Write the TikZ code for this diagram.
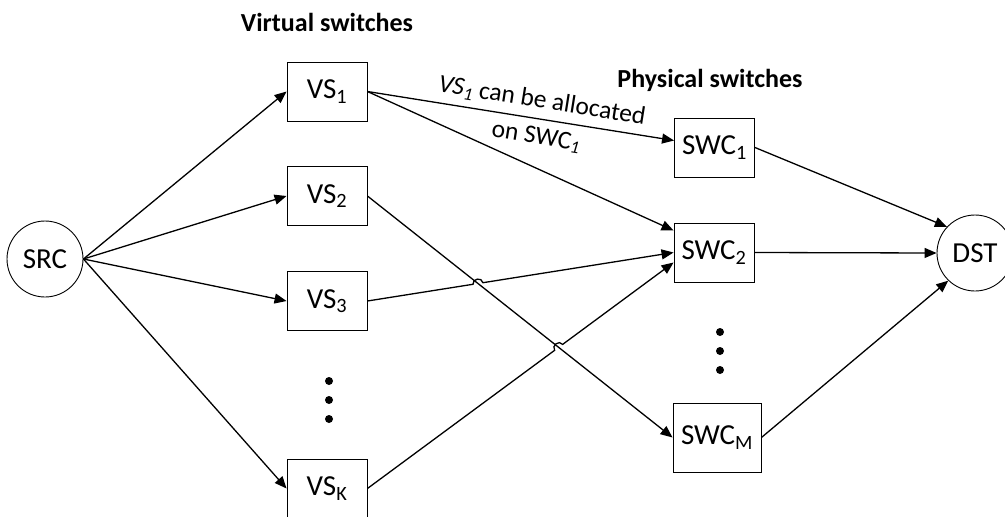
\documentclass[tikz,border=0pt]{standalone}
\usepackage{fontspec}
\setmainfont{Carlito}
\usetikzlibrary{arrows.meta,calc,intersections}
\tikzset{
  swbox/.style={draw, line width=0.9pt, minimum width=80pt, minimum height=59pt, inner sep=0pt, font=\fontsize{29}{34}\selectfont},
  endnode/.style={draw, circle, line width=0.9pt, minimum size=76pt, inner sep=0pt, font=\fontsize{29}{34}\selectfont},
  flow/.style={line width=1.3pt, -{Triangle[length=12pt,width=10pt]}},
  heading/.style={font=\fontsize{26}{30}\selectfont\bfseries},
  hop/.style={bend left=90, looseness=1.5}
}
\begin{document}
\begin{tikzpicture}[x=1pt,y=-1pt]
\useasboundingbox (0,0) rectangle (1005,517);
% end points
\node[endnode] (src) at (45,259) {SRC};
\node[endnode] (dst) at (975,253) {DST};
% virtual switches
\node[heading] (vtitle) at (327,22) {Virtual switches};
\node[swbox] (vs1) at (327,91.5) {VS\textsubscript{1}};
\node[swbox] (vs2) at (327,196) {VS\textsubscript{2}};
\node[swbox] (vs3) at (327,301) {VS\textsubscript{3}};
\node[swbox] (vsk) at (327,488.5) {VS\textsubscript{K}};
\foreach \y in {381,400,419} \fill (329,\y) circle (4pt);
% physical switches
\node[heading] (ptitle) at (710,80) {Physical switches};
\node[swbox] (swc1) at (714.5,147.5) {SWC\textsubscript{1}};
\node[swbox] (swc2) at (714,252.5) {SWC\textsubscript{2}};
\node[swbox, minimum width=88pt, minimum height=69pt] (swcm) at (717,437.5) {SWC\textsubscript{M}};
\foreach \y in {332,351,370} \fill (720,\y) circle (4pt);
% connectors
\draw[flow] (src.east) -- (vs1.west);
\draw[flow] (src.east) -- (vs2.west);
\draw[flow] (src.east) -- (vs3.west);
\draw[flow] (src.east) -- (vsk.west);
\draw[flow] (vs1.east) -- node[pos=0.56, sloped, align=center, font=\fontsize{25.5}{36}\selectfont]
  {\textit{VS\textsubscript{1}} can be allocated\\ on SWC\textsubscript{\textit{1}}} ([yshift=7pt]swc1.west);
\draw[flow] (vs1.east) -- ([yshift=22pt]swc2.west);
\draw[flow, name path=vs2p] (vs2.east) -- (swcm.west);
\path[name path=vs3p] (vs3.east) -- (swc2.west);
\path[name intersections={of=vs2p and vs3p, by=hop3}];
\draw[flow] (vs3.east) -- ($(hop3)!5pt!(vs3.east)$) to[hop] ($(hop3)!-5pt!(vs3.east)$) -- (swc2.west);
\path[name path=vskp] (vsk.east) -- ([yshift=-10pt]swc2.west);
\path[name intersections={of=vs2p and vskp, by=hopk}];
\draw[flow] (vsk.east) -- ($(hopk)!5pt!(vsk.east)$) to[hop] ($(hopk)!-5pt!(vsk.east)$) -- ([yshift=-10pt]swc2.west);
\draw[flow] (swc1.east) -- (dst.137);
\draw[flow] (swc2.east) -- (dst.west);
\draw[flow] (swcm.east) -- (dst.226);
\end{tikzpicture}
\end{document}
